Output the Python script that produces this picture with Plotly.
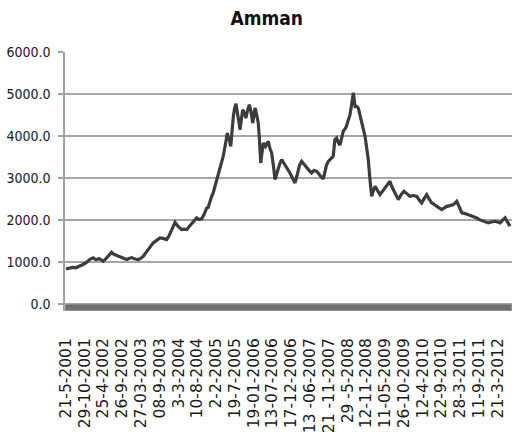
import plotly.graph_objects as go

# Trading-day index (approx.) and Amman index level
trading_day = [
    0, 26, 46, 65, 91, 117, 137, 156, 177, 195, 215, 228, 242, 260, 280, 297, 312, 332, 351, 371,
    395, 410, 427, 449, 470, 488, 502, 520, 540, 553, 567, 585, 598, 611, 631, 655, 670, 689, 709, 728,
    752, 767, 786, 800, 819, 832, 850, 865, 882, 897, 915, 925, 936, 947, 957, 969, 980, 990, 1001, 1012,
    1022, 1034, 1042, 1049, 1056, 1063, 1071, 1079, 1088, 1096, 1105, 1112, 1120, 1126, 1131, 1140, 1149, 1159, 1170, 1180,
    1192, 1202, 1214, 1222, 1229, 1240, 1250, 1258, 1266, 1274, 1283, 1297, 1315, 1326, 1337, 1348, 1359, 1370, 1380, 1391,
    1402, 1417, 1439, 1456, 1472, 1489, 1505, 1518, 1532, 1547, 1565, 1580, 1597, 1612, 1630, 1645, 1658, 1673, 1684, 1693,
    1705, 1716, 1727, 1737, 1748, 1759, 1770, 1781, 1792, 1802, 1820, 1835, 1846, 1857, 1868, 1879, 1890, 1900, 1911, 1922,
    1933, 1944, 1955, 1965, 1976, 1987, 1998, 2009, 2025, 2041, 2057, 2074, 2090, 2106, 2117, 2127, 2144, 2160, 2178, 2197,
    2217, 2236, 2258, 2280, 2295, 2312, 2327, 2345, 2360, 2377, 2392, 2410, 2425, 2442, 2457, 2475, 2496, 2518, 2540, 2555,
    2573, 2594, 2616, 2640, 2670, 2691, 2713, 2730, 2745, 2766, 2789, 2805, 2821, 2837, 2854, 2870, 2886,
]
index_value = [
    833, 850, 870, 860, 895, 950, 1000, 1060, 1095, 1050, 1080, 1040, 1014, 1080, 1150, 1229, 1180, 1150, 1119, 1090,
    1055, 1080, 1102, 1070, 1055, 1090, 1133, 1220, 1320, 1400, 1452, 1500, 1540, 1571, 1560, 1531, 1620, 1760, 1943, 1850,
    1769, 1780, 1769, 1840, 1920, 1960, 2048, 2010, 2024, 2120, 2286, 2300, 2450, 2562, 2643, 2800, 2900, 3038, 3200, 3350,
    3514, 3750, 3900, 4071, 3950, 3900, 3752, 4150, 4467, 4650, 4769, 4600, 4467, 4300, 4150, 4400, 4626, 4550, 4429, 4600,
    4745, 4600, 4310, 4500, 4667, 4500, 4310, 3900, 3357, 3600, 3833, 3750, 3871, 3700, 3595, 3300, 2960, 3100, 3238, 3350,
    3436, 3350, 3238, 3119, 3000, 2881, 3100, 3300, 3395, 3320, 3238, 3180, 3119, 3180, 3157, 3080, 3030, 2976, 3150, 3300,
    3395, 3436, 3480, 3514, 3912, 3952, 3850, 3780, 3950, 4110, 4200, 4350, 4500, 4750, 5030, 4700, 4705, 4667, 4500, 4388,
    4200, 3990, 3700, 3436, 2960, 2562, 2700, 2800, 2700, 2602, 2680, 2762, 2850, 2919, 2800, 2721, 2600, 2483, 2600, 2681,
    2620, 2562, 2580, 2562, 2480, 2405, 2500, 2602, 2500, 2405, 2370, 2324, 2290, 2245, 2280, 2324, 2340, 2364, 2443, 2300,
    2167, 2150, 2126, 2090, 2048, 2000, 1967, 1950, 1929, 1950, 1967, 1950, 1929, 1990, 2048, 1950, 1848,
]

tick_labels = [
    "21-5-2001", "29-10-2001", "25-4-2002", "26-9-2002", "27-03-2003", "08-9-2003",
    "3-3-2004", "10-8-2004", "2-2-2005", "19-7-2005", "19-01-2006", "13-07-2006",
    "17-12-2006", "13 -06-2007", "21 -11-2007", "29 -5-2008", "12-11-2008", "11-05-2009",
    "26-10-2009", "12-4-2010", "22-9-2010", "28-3-2011", "11-9-2011", "21-3-2012",
]
label_step = 122
tick_days = [i * label_step for i in range(len(tick_labels))]

y_ticks = [0, 1000, 2000, 3000, 4000, 5000, 6000]

narrow = "DejaVu Sans Condensed, Liberation Sans Narrow, sans-serif"

fig = go.Figure()
fig.add_trace(go.Scatter(
    x=trading_day, y=index_value, mode="lines",
    line=dict(color="#3c3c3c", width=3.2),
    showlegend=False, hoverinfo="skip",
))

fig.update_layout(
    width=512, height=434,
    margin=dict(l=65, r=0, t=52, b=123, autoexpand=False),
    paper_bgcolor="white", plot_bgcolor="white",
    title=dict(text="<b>Amman</b>", x=0.521, xanchor="center", y=0.958, yanchor="middle",
               font=dict(family=narrow, size=19, color="#111111")),
    shapes=[dict(type="rect", xref="x domain", x0=0, x1=1, yref="y", y0=-170, y1=0,
                 fillcolor="#6f6f6f", line=dict(color="#b0b0b0", width=1), layer="above")],
)
fig.update_xaxes(
    range=[-6, 2899],
    tickmode="array", tickvals=tick_days, ticktext=tick_labels,
    tickangle=-90, ticks="outside", ticklen=20, tickcolor="rgba(0,0,0,0)",
    tickfont=dict(family="DejaVu Sans, Verdana, sans-serif", size=15.5, color="#1a1a1a"),
    showgrid=False, zeroline=False, showline=False,
)
fig.update_yaxes(
    range=[-170, 6000],
    tickmode="array", tickvals=y_ticks, tickformat=".1f",
    ticks="outside", ticklen=5, tickcolor="#a0a0a0", tickwidth=1.5,
    ticklabelstandoff=5,
    tickfont=dict(family=narrow, size=14, color="#1a1a1a"),
    showgrid=True, gridcolor="#a6a6a6", gridwidth=1.5,
    zeroline=False, showline=True, linecolor="#a0a0a0", linewidth=1.5,
)

fig.write_html("out.html", config={"displayModeBar": False},
               post_script="document.body.style.margin='0';")
